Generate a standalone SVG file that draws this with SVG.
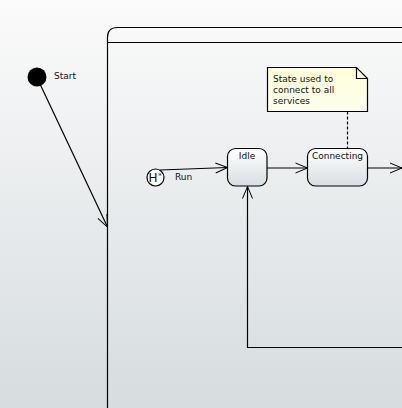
<svg xmlns="http://www.w3.org/2000/svg" width="402" height="408" viewBox="0 0 402 408">
<defs>
<linearGradient id="bg" x1="0" y1="0" x2="0" y2="1">
<stop offset="0" stop-color="#fbfbfb"/>
<stop offset="1" stop-color="#d6dcdf"/>
</linearGradient>
<linearGradient id="st" x1="0" y1="0" x2="0" y2="1">
<stop offset="0" stop-color="#ffffff"/>
<stop offset="1" stop-color="#d7dee2"/>
</linearGradient>
<linearGradient id="nt" x1="0" y1="0" x2="0" y2="1">
<stop offset="0" stop-color="#ffffd8"/>
<stop offset="1" stop-color="#fdfdef"/>
</linearGradient>
<marker id="arr" markerWidth="14" markerHeight="12" refX="13" refY="6" orient="auto" markerUnits="userSpaceOnUse">
<path d="M1,1 L13,6 L1,11" fill="none" stroke="#000" stroke-width="1"/>
</marker>
</defs>
<style>
text{font-family:"Lucida Grande","DejaVu Sans","Liberation Sans",sans-serif;font-size:9px;fill:#111}
.ln{fill:none;stroke:#000;stroke-width:1.2}
.box{stroke:#000;stroke-width:1.2}
</style>
<rect x="0" y="0" width="402" height="408" fill="url(#bg)"/>
<g id="composite">
<path class="box" d="M107.5,410 L107.5,37.5 Q107.5,27.5 117.5,27.5 L404,27.5 L404,410 Z" fill="none"/>
<line class="ln" x1="107.5" y1="42.5" x2="404" y2="42.5"/>
</g>
<g id="start">
<circle cx="37" cy="77" r="9.5" fill="#000"/>
<text x="54" y="79">Start</text>
</g>
<g id="note">
<path class="box" d="M267.5,67.5 L356.5,67.5 L367.5,78.5 L367.5,111.5 L267.5,111.5 Z" fill="url(#nt)"/>
<path class="ln" d="M356.5,67.5 L356.5,78.5 L367.5,78.5"/>
<text x="273" y="82">State used to</text>
<text x="273" y="93">connect to all</text>
<text x="273" y="104">services</text>
</g>
<g id="history">
<circle cx="155.5" cy="177.5" r="8.5" fill="#fff" stroke="#000" stroke-width="1.2"/>
<text x="148.5" y="182" style="font-size:12px">H</text>
<text x="158.3" y="178" style="font-size:7px">*</text>
<text x="175" y="180">Run</text>
</g>
<g id="idle">
<rect class="box" x="227.5" y="148.5" width="39.5" height="37.5" rx="8" fill="url(#st)"/>
<text x="247" y="158.5" text-anchor="middle">Idle</text>
</g>
<g id="connecting">
<rect class="box" x="307.5" y="148.5" width="60" height="37.5" rx="8" fill="url(#st)"/>
<text x="337.5" y="158.5" text-anchor="middle">Connecting</text>
</g>
<g id="connectors">
<line class="ln" x1="160" y1="170" x2="227.5" y2="167.5" marker-end="url(#arr)"/>
<line class="ln" x1="40" y1="84" x2="107.5" y2="227" marker-end="url(#arr)"/>
<line class="ln" x1="267" y1="168" x2="307.5" y2="168" marker-end="url(#arr)"/>
<line class="ln" x1="367.5" y1="168" x2="402" y2="168" marker-end="url(#arr)"/>
<path class="ln" d="M402,347.5 L247.5,347.5 L247.5,186.5" marker-end="url(#arr)"/>
<line class="ln" x1="347.5" y1="111.5" x2="347.5" y2="148.5" stroke-dasharray="3,2"/>
</g>
</svg>
